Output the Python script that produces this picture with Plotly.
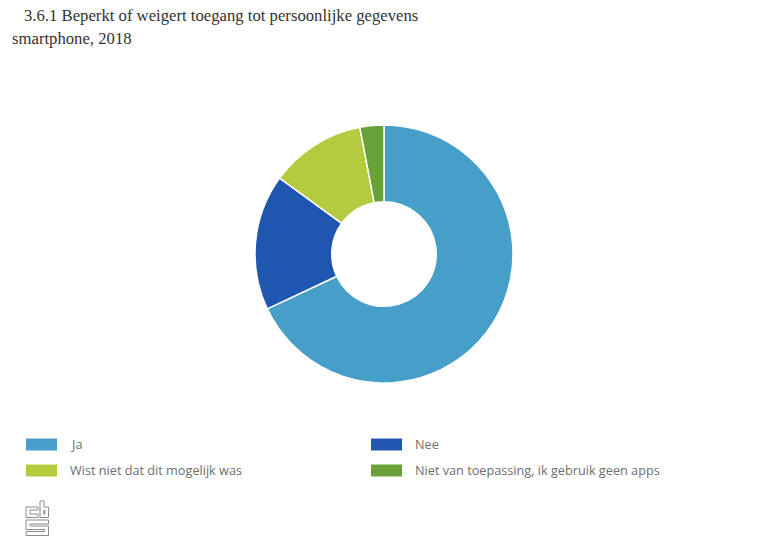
import plotly.graph_objects as go

W = 770
H = 551

labels = ["Ja", "Nee", "Wist niet dat dit mogelijk was", "Niet van toepassing, ik gebruik geen apps"]
values = [68, 17, 12, 3]
colors = ["#459fc9", "#1f57b0", "#b5cb3f", "#68a136"]
title_lines = ["3.6.1 Beperkt of weigert toegang tot persoonlijke gegevens", "smartphone, 2018"]

# legend layout in pixels: swatch left edge, row centre
legend_x = [26, 371]
legend_y = [444.5, 470.5]

# logo outlines in pixels (c, b, inside of b, s)
logo_polys = [
    [(26, 507), (38, 507), (38, 510), (30, 510), (30, 514), (38, 514), (38, 517.5), (26, 517.5)],
    [(40, 501), (44, 501), (44, 507), (48.5, 507), (48.5, 517.5), (40, 517.5)],
    [(43.5, 510.5), (45, 510.5), (45, 514), (43.5, 514)],
    [(26, 520), (48.5, 520), (48.5, 524), (30, 524), (30, 526), (48.5, 526), (48.5, 535.5),
     (26, 535.5), (26, 531.5), (44.5, 531.5), (44.5, 529.5), (26, 529.5)],
]


def px_x(x):
    return x / W


def px_y(y):
    return 1 - y / H


fig = go.Figure(
    go.Pie(
        labels=labels,
        values=values,
        hole=0.405,
        sort=False,
        direction="clockwise",
        rotation=0,
        textinfo="none",
        marker=dict(colors=colors, line=dict(color="white", width=1.5)),
        domain=dict(x=[px_x(255), px_x(513)], y=[px_y(383), px_y(125)]),
        showlegend=False,
    )
)

shapes = []
annotations = []

# title, second line starts further left
for txt, x, y in zip(title_lines, [22, 10], [15, 38]):
    annotations.append(dict(
        text=txt, x=px_x(x), y=px_y(y), xref="paper", yref="paper",
        xanchor="left", yanchor="middle", showarrow=False,
        font=dict(family="Liberation Serif", size=16.7, color="#333333"),
    ))

# legend drawn by hand, wide swatches in two columns
for i, (name, col) in enumerate(zip(labels, colors)):
    x0 = legend_x[i % 2]
    yc = legend_y[i // 2]
    shapes.append(dict(
        type="rect", xref="paper", yref="paper",
        x0=px_x(x0), x1=px_x(x0 + 31), y0=px_y(yc - 6), y1=px_y(yc + 6),
        fillcolor=col, line=dict(width=0),
    ))
    annotations.append(dict(
        text=name, x=px_x(x0 + 41.5), y=px_y(yc - 1), xref="paper", yref="paper",
        xanchor="left", yanchor="middle", showarrow=False,
        font=dict(family="Open Sans", size=12.7, color="#6e6e6e"),
    ))

# cbs logo
for poly in logo_polys:
    d = "M" + " L".join(f"{px_x(x)},{px_y(y)}" for x, y in poly) + " Z"
    shapes.append(dict(type="path", path=d, xref="paper", yref="paper",
                       line=dict(color="#8c8c8c", width=1), fillcolor="white"))

fig.update_layout(
    width=W,
    height=H,
    margin=dict(l=0, r=0, t=0, b=0),
    paper_bgcolor="white",
    shapes=shapes,
    annotations=annotations,
)

# page has a default body margin, take it off so the figure fills the window
fig.write_html(
    "out.html",
    config=dict(displayModeBar=False),
    post_script="document.body.style.margin='0';document.body.style.overflow='hidden';",
)
